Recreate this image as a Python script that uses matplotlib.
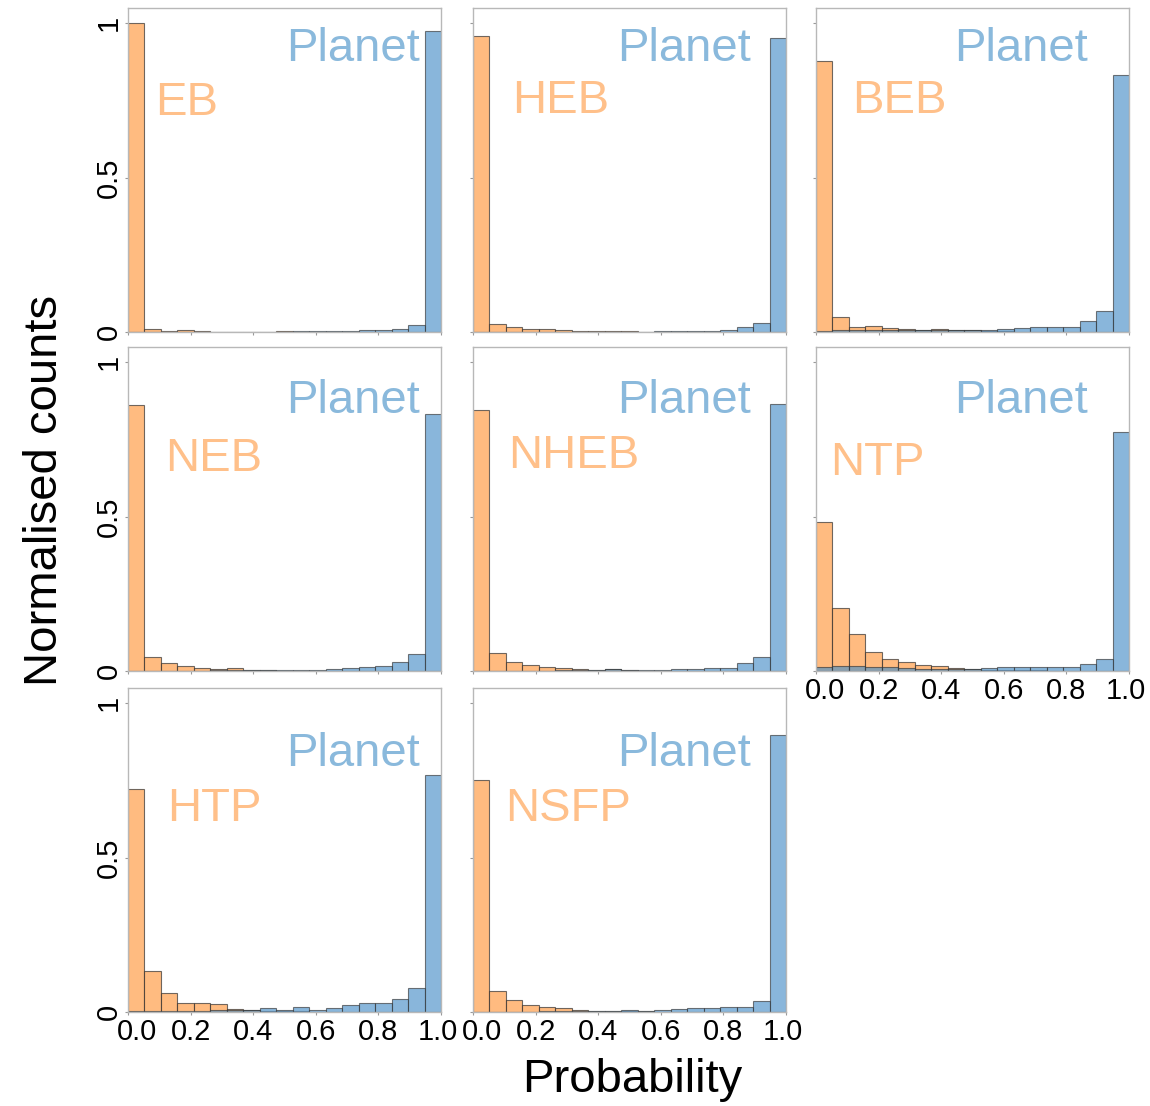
import numpy as np
import matplotlib
matplotlib.use('Agg')
import matplotlib.pyplot as plt
import matplotlib.transforms as mtrans

plt.rcParams['font.family'] = ['Liberation Sans', 'DejaVu Sans']

# histogram heights, 19 bins over [0, 1]
classes = ['EB', 'HEB', 'BEB', 'NEB', 'NHEB', 'NTP', 'HTP', 'NSFP']

cls_counts = [
	[1.0, 0.011, 0.003, 0.005, 0.003, 0.001, 0.001, 0.001, 0.001, 0.002, 0.001, 0, 0, 0, 0, 0, 0, 0, 0],
	[0.958, 0.026, 0.016, 0.011, 0.009, 0.006, 0.004, 0.003, 0.004, 0.002, 0.001, 0.001, 0.001, 0, 0, 0, 0, 0, 0],
	[0.877, 0.047, 0.016, 0.018, 0.012, 0.010, 0.008, 0.010, 0.008, 0.005, 0.003, 0.002, 0.001, 0.001, 0.001, 0.001, 0, 0, 0],
	[0.861, 0.045, 0.027, 0.016, 0.010, 0.006, 0.009, 0.004, 0.002, 0.001, 0.001, 0.001, 0, 0, 0, 0, 0, 0, 0],
	[0.845, 0.058, 0.029, 0.019, 0.013, 0.010, 0.006, 0.004, 0.005, 0.002, 0.001, 0.001, 0, 0, 0, 0, 0, 0, 0],
	[0.484, 0.204, 0.120, 0.063, 0.038, 0.028, 0.021, 0.017, 0.011, 0.007, 0.004, 0.003, 0.002, 0.002, 0.001, 0.001, 0.001, 0, 0],
	[0.723, 0.134, 0.061, 0.030, 0.030, 0.025, 0.011, 0.006, 0.004, 0.002, 0.002, 0.001, 0.001, 0, 0, 0, 0, 0, 0],
	[0.752, 0.067, 0.039, 0.023, 0.017, 0.012, 0.007, 0.004, 0.004, 0.004, 0.002, 0.001, 0.001, 0, 0, 0, 0, 0, 0],
]

planet_counts = [
	[0, 0, 0, 0, 0, 0.001, 0.001, 0.001, 0.001, 0.001, 0.002, 0.002, 0.002, 0.003, 0.006, 0.007, 0.010, 0.024, 0.974],
	[0.001, 0.001, 0.001, 0.001, 0.001, 0.001, 0.001, 0.001, 0.001, 0.001, 0.001, 0.003, 0.004, 0.003, 0.004, 0.007, 0.016, 0.029, 0.952],
	[0.004, 0.006, 0.007, 0.007, 0.007, 0.007, 0.007, 0.007, 0.006, 0.005, 0.005, 0.010, 0.012, 0.015, 0.016, 0.016, 0.035, 0.067, 0.832],
	[0.001, 0.001, 0.001, 0.001, 0.001, 0.002, 0.002, 0.002, 0.002, 0.003, 0.004, 0.004, 0.005, 0.010, 0.014, 0.015, 0.030, 0.056, 0.833],
	[0.001, 0.001, 0.001, 0.001, 0.001, 0.002, 0.002, 0.003, 0.006, 0.002, 0.004, 0.002, 0.007, 0.006, 0.009, 0.011, 0.025, 0.044, 0.865],
	[0.012, 0.016, 0.015, 0.014, 0.012, 0.010, 0.008, 0.007, 0.006, 0.007, 0.009, 0.012, 0.012, 0.013, 0.012, 0.012, 0.022, 0.040, 0.774],
	[0.002, 0.002, 0.002, 0.003, 0.004, 0.005, 0.005, 0.008, 0.012, 0.005, 0.015, 0.008, 0.013, 0.022, 0.029, 0.030, 0.043, 0.078, 0.768],
	[0.001, 0.001, 0.001, 0.001, 0.002, 0.002, 0.002, 0.003, 0.003, 0.006, 0.004, 0.006, 0.009, 0.012, 0.012, 0.015, 0.016, 0.035, 0.897],
]

xticks = [0.0, 0.2, 0.4, 0.6, 0.8, 1.0]
xtick_labels = ['0.0', '0.2', '0.4', '0.6', '0.8', '1.0']
yticks = [0, 0.5, 1]
ytick_labels = ['0', '0.5', '1']

# layout (pixels in a 1150x1106 canvas)
W, H = 1150, 1106
col_left = [128, 473, 816]
row_top = [8, 347, 688]
pw, ph = 313, 324
grid = [(0, 0), (0, 1), (0, 2), (1, 0), (1, 1), (1, 2), (2, 0), (2, 1)]
label_pos = [(0.086, 0.706), (0.125, 0.712), (0.115, 0.712), (0.118, 0.655),
	(0.112, 0.664), (0.045, 0.642), (0.125, 0.627), (0.103, 0.627)]
planet_pos = [(0.933, 0.872), (0.888, 0.872), (0.869, 0.872), (0.933, 0.833),
	(0.888, 0.833), (0.869, 0.833), (0.933, 0.796), (0.888, 0.796)]
bottom_panels = [5, 6, 7]

orange = '#ff9f4a'
blue = '#4a90c8'
edges = np.linspace(0, 1, 20)
widths = np.diff(edges)

fig = plt.figure(figsize=(W/100, H/100), dpi=100)

for i, name in enumerate(classes):
	r, c = grid[i]
	ax = fig.add_axes([col_left[c]/W, 1 - (row_top[r] + ph)/H, pw/W, ph/H])
	ax.bar(edges[:-1], cls_counts[i], width=widths, align='edge', color=orange,
		alpha=0.7, edgecolor='#333333', linewidth=0.8)
	ax.bar(edges[:-1], planet_counts[i], width=widths, align='edge', color=blue,
		alpha=0.65, edgecolor='#333333', linewidth=0.8)
	ax.set_xlim(0, 1)
	ax.set_ylim(0, 1.05)
	for s in ax.spines.values():
		s.set_color('#b8b8b8')
		s.set_linewidth(1.0)
	ax.set_xticks(xticks)
	ax.set_yticks(yticks)
	ax.tick_params(length=2, color='#999999', labelsize=21, pad=2)
	if i in bottom_panels:
		ax.set_xticklabels(xtick_labels)
		# first label sits a little inside the panel
		lab0 = ax.get_xticklabels()[0]
		lab0.set_transform(lab0.get_transform() + mtrans.ScaledTranslation(9/100, 0, fig.dpi_scale_trans))
		labn = ax.get_xticklabels()[-1]
		labn.set_transform(labn.get_transform() + mtrans.ScaledTranslation(-3/100, 0, fig.dpi_scale_trans))
	else:
		ax.set_xticklabels([])
	if c == 0:
		ax.set_yticklabels(ytick_labels, rotation=90, va='center')
	else:
		ax.set_yticklabels([])
	lx, ly = label_pos[i]
	ax.text(lx, ly, name, transform=ax.transAxes, fontsize=34, color='#ffc08a',
		ha='left', va='center')
	px, py = planet_pos[i]
	ax.text(px, py, 'Planet', transform=ax.transAxes, fontsize=34, color='#8ab9dc',
		ha='right', va='center')

fig.text(45/W, 1 - 490/H, 'Normalised counts', rotation=90, fontsize=34,
	ha='center', va='center')
fig.text(632/W, 1 - 1080/H, 'Probability', fontsize=34, ha='center', va='center')

fig.savefig('out.png', dpi=100)
